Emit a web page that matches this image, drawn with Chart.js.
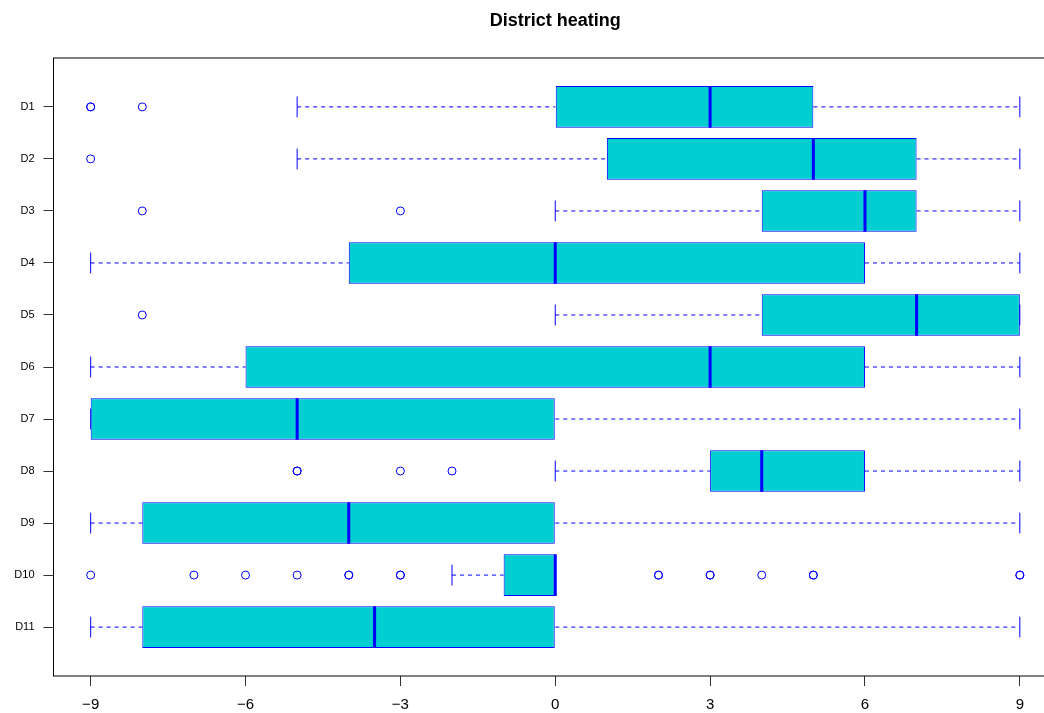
<!DOCTYPE html>
<html>
<head>
<meta charset="utf-8">
<title>District heating</title>
<script src="https://cdn.jsdelivr.net/npm/chart.js@4.4.1/dist/chart.umd.min.js"></script>
<style>
  html, body { margin: 0; padding: 0; background: #ffffff; }
  #wrap { width: 1044px; height: 713px; overflow: hidden; position: relative; }
  canvas { display: block; }
</style>
</head>
<body>
<div id="wrap"><canvas id="chart" width="1057" height="713"></canvas></div>
<script>
// Five-number summaries per district, plus points beyond the whiskers
const categories   = ['D1', 'D2', 'D3', 'D4', 'D5', 'D6', 'D7', 'D8', 'D9', 'D10', 'D11'];
const whiskerLow   = [-5, -5, 0, -9, 0, -9, -9, 0, -9, -2, -9];
const lowerQuart   = [0, 1, 4, -4, 4, -6, -9, 3, -8, -1, -8];
const medians      = [3, 5, 6, 0, 7, 3, -5, 4, -4, 0, -3.5];
const upperQuart   = [5, 7, 7, 6, 9, 6, 0, 6, 0, 0, 0];
const whiskerHigh  = [9, 9, 9, 9, 9, 9, 9, 9, 9, 0, 9];
const outliers = [
  [-9, -9, -8],
  [-9],
  [-8, -3],
  [],
  [-8],
  [],
  [],
  [-5, -5, -3, -2],
  [],
  [-9, -7, -6, -5, -4, -4, -3, -3, 2, 2, 3, 3, 4, 5, 5, 9, 9],
  []
];
const xTicks = [-9, -6, -3, 0, 3, 6, 9];

const FONT = "'Liberation Sans', Arial, Helvetica, sans-serif";
const BOX_FILL = '#00CED1';
const BLUE = '#0000FF';

// row positions 1..n, like a base-graphics boxplot
const pos = categories.map((_, i) => i + 1);

// axis ranges padded by 4% on each side
const xSpan = xTicks[xTicks.length - 1] - xTicks[0];
const xMin = xTicks[0] - 0.04 * xSpan;
const xMax = xTicks[xTicks.length - 1] + 0.04 * xSpan;
const yLo = 0.5, yHi = categories.length + 0.5;
const yMin = yLo - 0.04 * (yHi - yLo);
const yMax = yHi + 0.04 * (yHi - yLo);

// pixel length of a span along the category axis
const yUnits = (ctx, u) => {
  const s = ctx.chart.scales.y;
  return Math.abs(s.getPixelForValue(u) - s.getPixelForValue(0));
};

const datasets = [];

// dashed whiskers, one line per row (gap across the box)
pos.forEach((p, i) => {
  datasets.push({
    type: 'line',
    data: [
      { x: whiskerLow[i], y: p },
      { x: lowerQuart[i], y: p },
      { x: null, y: p },
      { x: upperQuart[i], y: p },
      { x: whiskerHigh[i], y: p }
    ],
    borderColor: BLUE,
    borderWidth: 1,
    borderDash: [4, 4],
    pointRadius: 0,
    fill: false,
    spanGaps: false,
    order: 5
  });
});

// staples at the whisker ends
datasets.push({
  type: 'scatter',
  data: pos.flatMap((p, i) => [{ x: whiskerLow[i], y: p }, { x: whiskerHigh[i], y: p }]),
  pointStyle: 'line',
  rotation: 90,
  pointRadius: ctx => yUnits(ctx, 0.2),
  pointBorderColor: BLUE,
  pointBorderWidth: 1,
  order: 4
});

// boxes from lower to upper quartile
datasets.push({
  type: 'bar',
  data: pos.map((p, i) => ({ x: [lowerQuart[i], upperQuart[i]], y: p })),
  backgroundColor: BOX_FILL,
  borderColor: BLUE,
  borderWidth: 1,
  borderSkipped: false,
  barPercentage: 0.8,
  categoryPercentage: 1,
  order: 3
});

// median bars
datasets.push({
  type: 'scatter',
  data: pos.map((p, i) => ({ x: medians[i], y: p })),
  pointStyle: 'line',
  rotation: 90,
  pointRadius: ctx => yUnits(ctx, 0.4),
  pointBorderColor: BLUE,
  pointBorderWidth: 3,
  order: 1
});

// outlying points as open circles
datasets.push({
  type: 'scatter',
  data: pos.flatMap((p, i) => outliers[i].map(v => ({ x: v, y: p }))),
  pointStyle: 'circle',
  pointRadius: 4,
  pointBackgroundColor: 'rgba(0,0,0,0)',
  pointBorderColor: BLUE,
  pointBorderWidth: 1,
  order: 2
});

// box around the plotting region
const framePlugin = {
  id: 'frame',
  afterDatasetsDraw(chart) {
    const { ctx, chartArea: a } = chart;
    ctx.save();
    ctx.strokeStyle = '#000000';
    ctx.lineWidth = 1;
    ctx.strokeRect(a.left, a.top, a.right - a.left, a.bottom - a.top);
    ctx.restore();
  }
};

const minus = v => (v < 0 ? '\u2212' + Math.abs(v) : String(v));

new Chart(document.getElementById('chart'), {
  type: 'bar',
  data: { datasets },
  plugins: [framePlugin],
  options: {
    indexAxis: 'y',
    responsive: false,
    animation: false,
    events: [],
    layout: { padding: 0, autoPadding: false },
    plugins: {
      legend: { display: false },
      tooltip: { enabled: false },
      title: {
        display: true,
        text: 'District heating',
        fullSize: false,
        color: '#000000',
        font: { family: FONT, size: 18, weight: 'bold', lineHeight: 1.2 },
        padding: { top: 10.2, bottom: 26.2 }
      }
    },
    scales: {
      x: {
        type: 'linear',
        position: 'bottom',
        offset: false,
        min: xMin,
        max: xMax,
        afterBuildTicks: s => { s.ticks = xTicks.map(v => ({ value: v })); },
        afterFit: s => { s.height = 37; s.paddingLeft = 0; s.paddingRight = 0; },
        ticks: {
          autoSkip: false,
          maxRotation: 0,
          padding: 10,
          color: '#000000',
          font: { family: FONT, size: 15 },
          callback: v => minus(v)
        },
        grid: { display: true, offset: false, drawOnChartArea: false, drawTicks: true, tickLength: 10, tickColor: '#333333' },
        border: { display: false }
      },
      y: {
        type: 'linear',
        position: 'left',
        offset: false,
        reverse: true,
        min: yMin,
        max: yMax,
        afterBuildTicks: s => { s.ticks = pos.map(v => ({ value: v })); },
        afterFit: s => { s.width = 53.5; s.paddingTop = 0; s.paddingBottom = 0; },
        ticks: {
          autoSkip: false,
          padding: 9,
          color: '#000000',
          font: { family: FONT, size: 11 },
          callback: v => categories[v - 1]
        },
        grid: { display: true, offset: false, drawOnChartArea: false, drawTicks: true, tickLength: 10, tickColor: '#333333' },
        border: { display: false }
      }
    }
  }
});
</script>
</body>
</html>
